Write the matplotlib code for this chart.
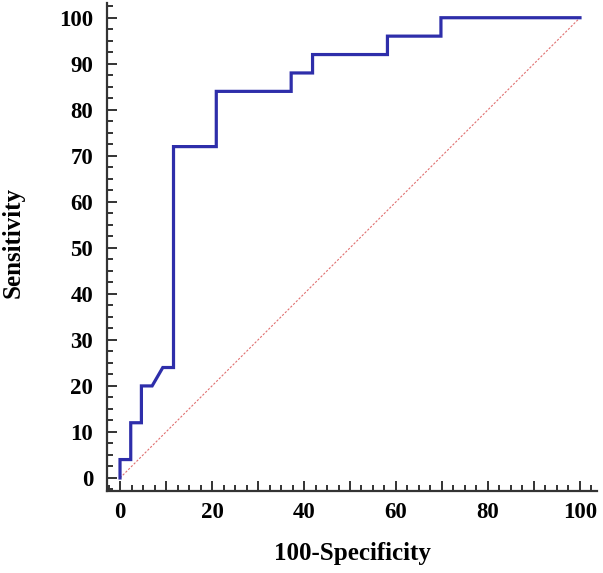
import matplotlib
matplotlib.use("Agg")
import matplotlib.pyplot as plt
from matplotlib.ticker import MultipleLocator, FuncFormatter

# ROC curve data (100-Specificity vs Sensitivity)
fpr = [0, 0, 2.33, 2.33, 4.65, 4.65, 6.98, 9.30, 11.63, 11.63, 20.93, 20.93,
       37.21, 37.21, 41.86, 41.86, 58.14, 58.14, 69.77, 69.77, 100]
tpr = [0, 4, 4, 12, 12, 20, 20, 24, 24, 72, 72, 84,
       84, 88, 88, 92, 92, 96, 96, 100, 100]
ref_line = [0, 100]
x_ticks = [0, 10, 20, 30, 40, 50, 60, 70, 80, 90, 100]
x_labels = ['0', '', '20', '', '40', '', '60', '', '80', '', '100']
y_ticks = [0, 10, 20, 30, 40, 50, 60, 70, 80, 90, 100]

plt.rcParams['font.family'] = ['Liberation Serif', 'DejaVu Serif']

fig = plt.figure(figsize=(6.03, 5.73), dpi=100)
ax = fig.add_axes([107/603, 82/573, (597-107)/603, (570-82)/573])

ax.plot(ref_line, ref_line, color='#e07070', lw=0.8, ls=(0, (2, 1.5)))
ax.plot(fpr, tpr, color='#2e2eaa', lw=2.3, solid_joinstyle='miter')

ax.set_xlim(-2.83, 103.7)
ax.set_ylim(-2.83, 103.2)

for s in ['top', 'right']:
    ax.spines[s].set_visible(False)
for s in ['left', 'bottom']:
    ax.spines[s].set_linewidth(1.6)
    ax.spines[s].set_color('#333333')

ax.set_xticks(x_ticks)
ax.set_xticklabels(x_labels)
ax.set_yticks(y_ticks)
ax.xaxis.set_minor_locator(MultipleLocator(2.5))
ax.yaxis.set_minor_locator(MultipleLocator(2.5))
ax.tick_params(which='both', direction='in', color='#333333', width=1.4)
ax.tick_params(which='major', length=7, labelsize=16.5)
ax.tick_params(which='minor', length=4)
ax.tick_params(axis='x', which='major', pad=8)
ax.tick_params(axis='y', which='major', pad=10)

for lab in ax.get_xticklabels() + ax.get_yticklabels():
    lab.set_fontweight('bold')

ax.set_xlabel('100-Specificity', fontsize=18, fontweight='bold')
ax.set_ylabel('Sensitivity', fontsize=18, fontweight='bold')
ax.xaxis.set_label_coords(0.5, -0.105)
ax.yaxis.set_label_coords(-0.169, 0.51)

fig.savefig('out.png', dpi=100)
